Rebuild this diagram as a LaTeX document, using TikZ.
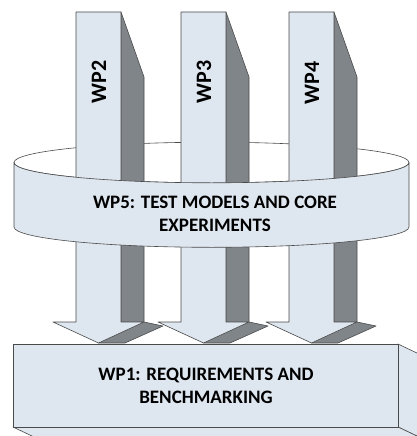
\documentclass[tikz,border=0pt]{standalone}
\usepackage{fontspec}
\setmainfont{Carlito}
\definecolor{lightfill}{HTML}{DEE6EF}
\definecolor{darkfill}{HTML}{80858A}
\definecolor{edge}{HTML}{4A4A4A}
\tikzset{
  face/.style={fill=lightfill, draw=edge, line width=0.6pt, line join=round},
  dark/.style={fill=darkfill, draw=edge, line width=0.6pt, line join=round},
  ringback/.style={fill=white, draw=edge, line width=0.6pt},
  lbl/.style={font=\bfseries\fontsize{19}{23.5}\selectfont, align=center, text=black, inner sep=0pt},
  wplbl/.style={font=\bfseries\fontsize{22}{26}\selectfont, rotate=90, text=black, inner sep=0pt}
}
\newcommand{\wparrow}[1]{%
  \fill[dark] (#1+45,12) -- (#1+68,77) -- (#1+68,322) -- (#1+87,326) -- (#1+49,343) -- (#1+22.5,343) -- (#1+45,322) -- cycle;
  \fill[face] (#1,12) -- (#1+45,12) -- (#1+45,322) -- (#1+68,322) -- (#1+22.5,343) -- (#1-23,322) -- (#1,322) -- cycle;
}
\begin{document}
\begin{tikzpicture}[x=1pt,y=-1pt]
\useasboundingbox (0,0) rectangle (417,436);
\clip (0,0) rectangle (417,436);
% WP1 box
\filldraw[face] (398,344) -- (438,363) -- (438,446) -- (398,427) -- cycle;
\filldraw[face] (13,427) -- (398,427) -- (438,446) -- (53,446) -- cycle;
\filldraw[face] (13,344) rectangle (398,427);
\node[lbl] (wp1) at (206,386) {WP1: REQUIREMENTS AND\\BENCHMARKING};
% ring back
\filldraw[ringback] (211.5,162.5) ellipse [x radius=197.5pt, y radius=20.3pt];
% arrows
\wparrow{76}
\wparrow{181}
\wparrow{289}
\node[wplbl] (wp2) at (99,82) {WP2};
\node[wplbl] (wp3) at (204,82) {WP3};
\node[wplbl] (wp4) at (312,83) {WP4};
% ring front band
\filldraw[face] (14,162.5) arc[start angle=180, end angle=360, x radius=197.5pt, y radius=20.3pt]
  -- (409,227) arc[start angle=0, end angle=-180, x radius=197.5pt, y radius=20.3pt] -- cycle;
\node[lbl] (wp5) at (215,214) {WP5: TEST MODELS AND CORE\\EXPERIMENTS};
\end{tikzpicture}
\end{document}
